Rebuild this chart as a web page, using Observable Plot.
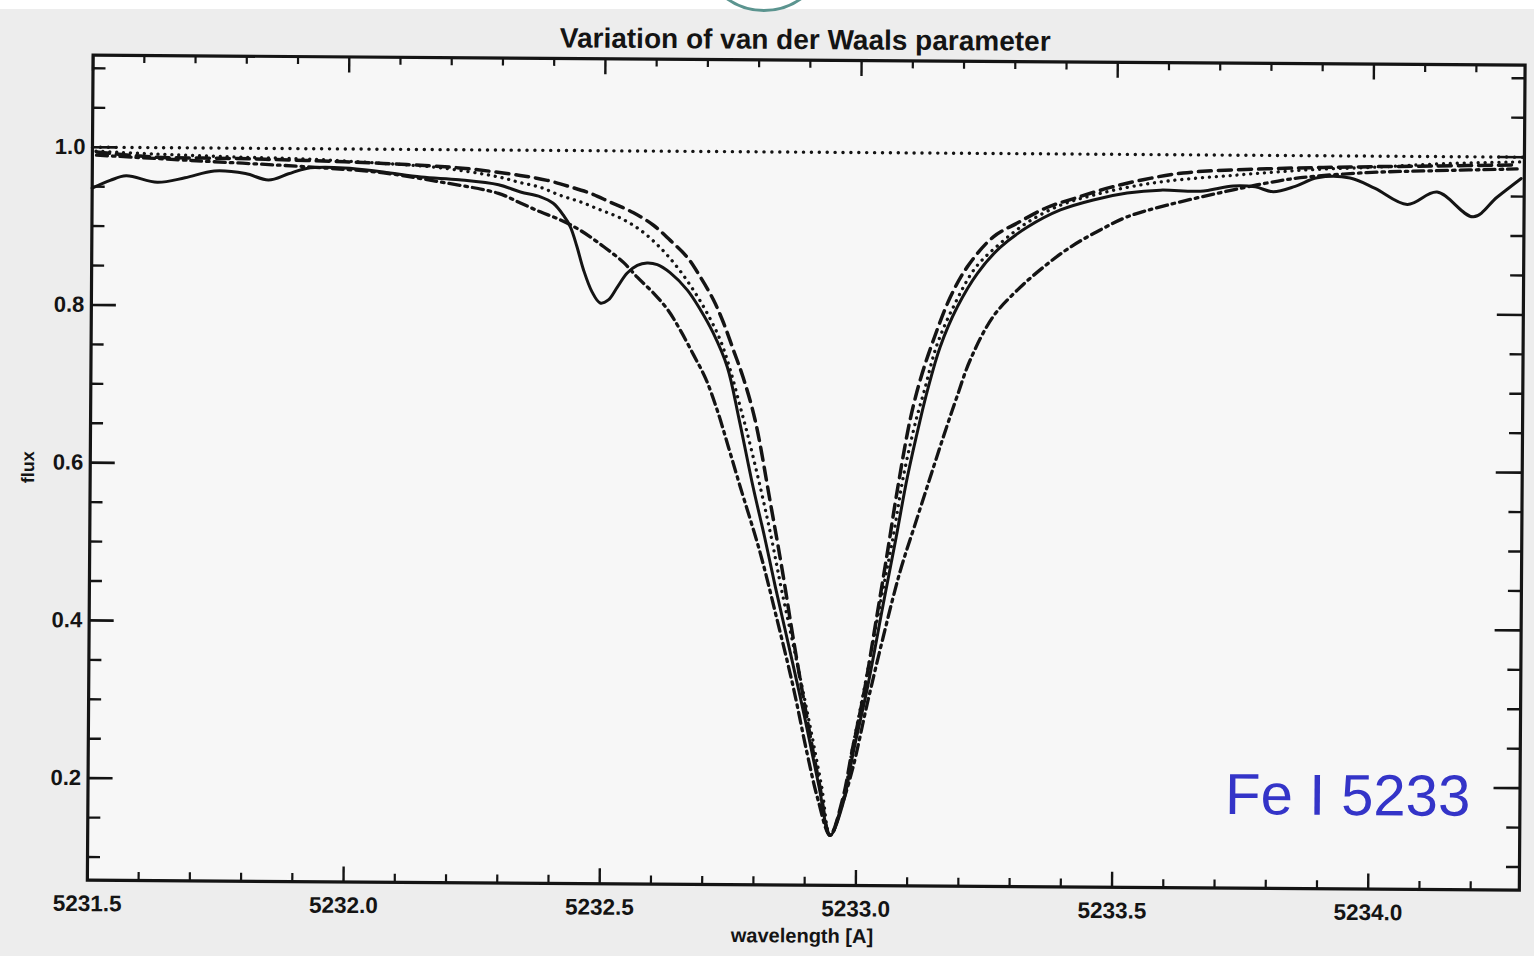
<!DOCTYPE html>
<html>
<head>
<meta charset="utf-8">
<script src="https://cdn.jsdelivr.net/npm/d3@7"></script>
<script src="https://cdn.jsdelivr.net/npm/@observablehq/plot@0.6"></script>
<style>
  html, body { margin: 0; padding: 0; background: #ffffff; }
  #wrap { position: relative; width: 1534px; height: 956px; overflow: hidden; background: #ffffff; }
  #scan { position: absolute; left: 0; top: 9px; width: 1534px; height: 947px; background: #ededed; }
  #ring { position: absolute; left: 699px; top: -118px; width: 124px; height: 124px; border: 3px solid #5b948f; border-radius: 50%; }
  #chart { position: absolute; left: 0; top: 0; transform-origin: 0 0; transform: rotate(0.4deg); }
</style>
</head>
<body>
<div id="wrap">
  <div id="scan"></div>
  <div id="ring"></div>
  <div id="chart"></div>
</div>
<script>
// ---- observed spectrum (solid) ----
const obsWave = [5231.500, 5231.535, 5231.566, 5231.627, 5231.681, 5231.738, 5231.799, 5231.844, 5231.883, 5231.918,
  5231.992, 5232.068, 5232.142, 5232.216, 5232.293, 5232.336, 5232.375, 5232.400, 5232.420, 5232.434,
  5232.447, 5232.460, 5232.477, 5232.493, 5232.509, 5232.526, 5232.545, 5232.565, 5232.584, 5232.604,
  5232.629, 5232.663, 5232.689, 5232.714, 5232.742, 5232.766, 5232.794, 5232.817, 5232.839, 5232.869,
  5232.899, 5232.927, 5232.949, 5232.974, 5232.993, 5233.020, 5233.050, 5233.074, 5233.095, 5233.119,
  5233.133, 5233.157, 5233.190, 5233.229, 5233.273, 5233.326, 5233.390, 5233.454, 5233.520, 5233.585,
  5233.663, 5233.727, 5233.770, 5233.805, 5233.848, 5233.891, 5233.955, 5234.004, 5234.067, 5234.125,
  5234.196, 5234.242, 5234.289];
const obsFlux = [0.948, 0.958, 0.964, 0.956, 0.962, 0.971, 0.968, 0.960, 0.968, 0.975,
  0.976, 0.971, 0.965, 0.962, 0.956, 0.947, 0.941, 0.933, 0.918, 0.903,
  0.878, 0.849, 0.821, 0.807, 0.811, 0.827, 0.845, 0.855, 0.858, 0.856,
  0.846, 0.824, 0.799, 0.770, 0.727, 0.660, 0.575, 0.512, 0.448, 0.365,
  0.280, 0.195, 0.134, 0.175, 0.239, 0.322, 0.429, 0.513, 0.589, 0.661,
  0.699, 0.754, 0.805, 0.848, 0.881, 0.907, 0.929, 0.942, 0.951, 0.955,
  0.954, 0.961, 0.960, 0.954, 0.961, 0.972, 0.972, 0.959, 0.939, 0.955,
  0.924, 0.949, 0.973];

// ---- model 1 (dashed) ----
const dashWave = [5231.508, 5231.619, 5231.769, 5231.917, 5232.068, 5232.216, 5232.335, 5232.388, 5232.433, 5232.472,
  5232.511, 5232.556, 5232.596, 5232.629, 5232.662, 5232.688, 5232.714, 5232.734, 5232.754, 5232.773,
  5232.797, 5232.828, 5232.852, 5232.874, 5232.903, 5232.928, 5232.949, 5232.973, 5232.991, 5233.014,
  5233.036, 5233.057, 5233.076, 5233.100, 5233.120, 5233.144, 5233.176, 5233.209, 5233.259, 5233.306,
  5233.364, 5233.423, 5233.487, 5233.551, 5233.629, 5233.793, 5233.955, 5234.117, 5234.281];
const dashFlux = [0.994, 0.988, 0.987, 0.985, 0.982, 0.977, 0.968, 0.962, 0.954, 0.946,
  0.935, 0.922, 0.906, 0.887, 0.866, 0.841, 0.812, 0.783, 0.748, 0.714,
  0.660, 0.555, 0.470, 0.385, 0.280, 0.197, 0.134, 0.180, 0.242, 0.318,
  0.407, 0.493, 0.574, 0.663, 0.715, 0.763, 0.817, 0.856, 0.894, 0.912,
  0.932, 0.945, 0.958, 0.968, 0.977, 0.983, 0.986, 0.988, 0.990];

// ---- model 2 (dotted) ----
const dotWave = [5231.507, 5231.619, 5231.769, 5231.917, 5232.068, 5232.179, 5232.292, 5232.335, 5232.375, 5232.414,
  5232.453, 5232.492, 5232.531, 5232.570, 5232.609, 5232.643, 5232.675, 5232.702, 5232.728, 5232.748,
  5232.768, 5232.782, 5232.808, 5232.830, 5232.850, 5232.878, 5232.906, 5232.932, 5232.949, 5232.974,
  5232.991, 5233.015, 5233.044, 5233.068, 5233.087, 5233.111, 5233.127, 5233.151, 5233.186, 5233.225,
  5233.273, 5233.326, 5233.390, 5233.454, 5233.526, 5233.604, 5233.737, 5233.871, 5234.004, 5234.136, 5234.289];
const dotFlux = [0.995, 0.992, 0.989, 0.987, 0.982, 0.977, 0.966, 0.959, 0.953, 0.943,
  0.935, 0.925, 0.915, 0.900, 0.878, 0.853, 0.824, 0.795, 0.761, 0.723,
  0.676, 0.643, 0.575, 0.512, 0.448, 0.365, 0.280, 0.195, 0.134, 0.179,
  0.242, 0.325, 0.429, 0.513, 0.589, 0.661, 0.699, 0.757, 0.810, 0.855,
  0.886, 0.913, 0.935, 0.948, 0.959, 0.967, 0.975, 0.982, 0.986, 0.991, 0.994];

// ---- model 3 (dash-dot) ----
const dashdotWave = [5231.508, 5231.693, 5231.918, 5232.068, 5232.179, 5232.293, 5232.336, 5232.375, 5232.414, 5232.453,
  5232.500, 5232.539, 5232.565, 5232.597, 5232.625, 5232.650, 5232.676, 5232.700, 5232.723, 5232.746,
  5232.769, 5232.809, 5232.843, 5232.875, 5232.903, 5232.925, 5232.949, 5232.972, 5232.993, 5233.020,
  5233.050, 5233.082, 5233.115, 5233.145, 5233.172, 5233.190, 5233.216, 5233.260, 5233.307, 5233.357,
  5233.410, 5233.468, 5233.521, 5233.598, 5233.727, 5233.793, 5233.858, 5233.988, 5234.117, 5234.281];
const dashdotFlux = [0.990, 0.984, 0.977, 0.970, 0.959, 0.945, 0.933, 0.922, 0.912, 0.899,
  0.878, 0.858, 0.840, 0.820, 0.799, 0.773, 0.742, 0.712, 0.672, 0.624,
  0.575, 0.491, 0.406, 0.322, 0.238, 0.179, 0.134, 0.173, 0.221, 0.302,
  0.386, 0.469, 0.538, 0.600, 0.655, 0.690, 0.738, 0.793, 0.827, 0.856,
  0.882, 0.904, 0.921, 0.936, 0.956, 0.965, 0.972, 0.979, 0.982, 0.985];

// ---- continuum (dotted reference) ----
const contWave = [5231.5, 5234.295];
const contFlux = [1.0, 1.0];

// ---- axes ----
const xDomain = [5231.5, 5234.295];
const yDomain = [0.0707, 1.1167];
const xMajor = [5231.5, 5232.0, 5232.5, 5233.0, 5233.5, 5234.0];
const xLabels = ["5231.5", "5232.0", "5232.5", "5233.0", "5233.5", "5234.0"];
const xMinor = [5231.6, 5231.7, 5231.8, 5231.9, 5232.1, 5232.2, 5232.3, 5232.4, 5232.6, 5232.7, 5232.8, 5232.9,
  5233.1, 5233.2, 5233.3, 5233.4, 5233.6, 5233.7, 5233.8, 5233.9, 5234.1, 5234.2];
const yMajor = [0.2, 0.4, 0.6, 0.8, 1.0];
const yLabels = ["0.2", "0.4", "0.6", "0.8", "1.0"];
const yMinor = [0.1, 0.15, 0.25, 0.3, 0.35, 0.45, 0.5, 0.55, 0.65, 0.7, 0.75, 0.85, 0.9, 0.95, 1.05, 1.1];

const titleText = "Variation of van der Waals parameter";
const xTitle = "wavelength [A]";
const yTitle = "flux";
const annotation = [{wave: 5234.198, flux: 0.188, text: "Fe I 5233"}];

const toRows = (w, f) => w.map((d, i) => ({wave: d, flux: f[i]}));
const obs = toRows(obsWave, obsFlux);
const dashed = toRows(dashWave, dashFlux);
const dotted = toRows(dotWave, dotFlux);
const dashdot = toRows(dashdotWave, dashdotFlux);
const cont = toRows(contWave, contFlux);

const W = 1534, H = 956, mL = 93, mR = 9, mT = 54, mB = 77;
const FW = W - mL - mR, FH = H - mT - mB;
const ink = "#141414";
const font = "Liberation Sans, Arial, sans-serif";

const chart = Plot.plot({
  width: W, height: H,
  marginLeft: mL, marginRight: mR, marginTop: mT, marginBottom: mB,
  style: {background: "transparent", fontFamily: font, color: ink, overflow: "visible"},
  x: {domain: xDomain},
  y: {domain: yDomain},
  marks: [
    Plot.frame({fill: "#f7f7f7", stroke: null}),
    // ticks inward, all four sides
    Plot.tickX(xMinor, {x: d => d, insetTop: FH - 8, stroke: ink, strokeWidth: 2.2}),
    Plot.tickX(xMinor, {x: d => d, insetBottom: FH - 8, stroke: ink, strokeWidth: 2.2}),
    Plot.tickX(xMajor, {x: d => d, insetTop: FH - 15, stroke: ink, strokeWidth: 2.4}),
    Plot.tickX(xMajor, {x: d => d, insetBottom: FH - 16, stroke: ink, strokeWidth: 2.4}),
    Plot.tickY(yMinor, {y: d => d, insetRight: FW - 13, stroke: ink, strokeWidth: 2.4}),
    Plot.tickY(yMinor, {y: d => d, insetLeft: FW - 13, stroke: ink, strokeWidth: 2.4}),
    Plot.tickY(yMajor, {y: d => d, insetRight: FW - 25, stroke: ink, strokeWidth: 2.6}),
    Plot.tickY(yMajor, {y: d => d, insetLeft: FW - 26, stroke: ink, strokeWidth: 2.6}),
    // curves
    Plot.line(cont, {x: "wave", y: "flux", stroke: ink, strokeWidth: 3.4, strokeDasharray: "0.1 7.8", strokeLinecap: "round"}),
    Plot.line(dashdot, {x: "wave", y: "flux", stroke: ink, strokeWidth: 3.3, strokeDasharray: "11 5 2.6 5", curve: "catmull-rom"}),
    Plot.line(dashed, {x: "wave", y: "flux", stroke: ink, strokeWidth: 3.5, strokeDasharray: "13 7", curve: "catmull-rom"}),
    Plot.line(dotted, {x: "wave", y: "flux", stroke: ink, strokeWidth: 3.3, strokeDasharray: "0.1 6.8", strokeLinecap: "round", curve: "catmull-rom"}),
    Plot.line(obs, {x: "wave", y: "flux", stroke: ink, strokeWidth: 3, curve: "catmull-rom"}),
    Plot.frame({stroke: ink, strokeWidth: 3.2}),
    // axes (labels only)
    Plot.axisX(xMajor, {tickSize: 0, tickPadding: 15, tickFormat: d => xLabels[xMajor.indexOf(d)], fontSize: 22.5, fontWeight: "bold", label: null}),
    Plot.axisY(yMajor, {tickSize: 0, tickPadding: 7, tickFormat: d => yLabels[yMajor.indexOf(d)], fontSize: 22, fontWeight: "bold", label: null}),
    // titles
    Plot.text([titleText], {frameAnchor: "top", dx: -4, dy: -20, fontSize: 28, fontWeight: "bold", fill: ink, lineAnchor: "middle"}),
    Plot.text([xTitle], {frameAnchor: "bottom", dx: -1, dy: 51, fontSize: 20, fontWeight: "bold", fill: ink, lineAnchor: "middle"}),
    Plot.text([yTitle], {frameAnchor: "left", dx: -62, dy: 16, rotate: -90, fontSize: 18, fontWeight: "bold", fill: ink, lineAnchor: "middle"}),
    // annotation
    Plot.text(annotation, {x: "wave", y: "flux", text: "text", textAnchor: "end", lineAnchor: "middle", fontSize: 58, fill: "#3434c8", fontFamily: "Liberation Sans, Arial, sans-serif"})
  ]
});
document.getElementById("chart").appendChild(chart);
</script>
</body>
</html>
